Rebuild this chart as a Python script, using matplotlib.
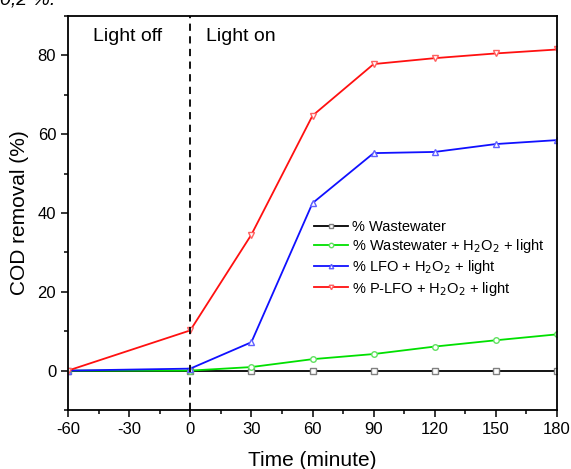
import numpy as np
import matplotlib.pyplot as plt
from matplotlib.ticker import MultipleLocator

plt.rcParams['font.family'] = ['Liberation Sans', 'DejaVu Sans']
plt.rcParams['axes.unicode_minus'] = False

# time points (minute)
t = [-60, 0, 30, 60, 90, 120, 150, 180]
# COD removal (%)
waste = [0, 0, 0, 0, 0, 0, 0, 0]
waste_h2o2 = [0, 0, 0.9, 2.9, 4.2, 6.1, 7.7, 9.2]
lfo = [0, 0.5, 7.2, 42.5, 55.2, 55.5, 57.5, 58.5]
plfo = [0, 10.2, 34.5, 64.7, 77.8, 79.3, 80.5, 81.5]

labels = ['% Wastewater',
          '% Wastewater + H$_2$O$_2$ + light',
          '% LFO + H$_2$O$_2$ + light',
          '% P-LFO + H$_2$O$_2$ + light']

fig = plt.figure(figsize=(5.71, 4.69), dpi=100)
ax = fig.add_axes([68/571, 1 - 410/469, 489/571, 394/469])

ax.plot(t, waste, color='black', lw=1.3, marker='s', ms=4, mfc='white',
        mec='gray', label=labels[0])
ax.plot(t, waste_h2o2, color='#00e000', lw=1.3, marker='o', ms=4, mfc='white',
        mec='#60e060', label=labels[1])
ax.plot(t, lfo, color='#1010ff', lw=1.3, marker='^', ms=4, mfc='white',
        mec='#6060ff', label=labels[2])
ax.plot(t, plfo, color='#ff1010', lw=1.3, marker='v', ms=4, mfc='white',
        mec='#ff6060', label=labels[3])

ax.axvline(0, color='black', ls=(0, (4, 3)), lw=1.3)

ax.set_xlim(-60, 180)
ax.set_ylim(-10, 90)
ax.xaxis.set_major_locator(MultipleLocator(30))
ax.xaxis.set_minor_locator(MultipleLocator(15))
ax.yaxis.set_major_locator(MultipleLocator(20))
ax.yaxis.set_minor_locator(MultipleLocator(10))
ax.tick_params(which='both', direction='out', top=False, right=False,
               labelsize=12, width=1.1)
ax.tick_params(which='major', length=5)
ax.tick_params(which='minor', length=3)
for s in ax.spines.values():
    s.set_linewidth(1.3)

ax.set_xlabel('Time (minute)', fontsize=15, labelpad=10)
ax.set_ylabel('COD removal (%)', fontsize=15, labelpad=6)

ax.text(-30.7, 84.9, 'Light off', ha='center', va='center', fontsize=14)
ax.text(24.8, 84.9, 'Light on', ha='center', va='center', fontsize=14)

ax.legend(loc='center left', bbox_to_anchor=(0.503, 0.384), frameon=False,
          fontsize=10.5, handlelength=2.35, handletextpad=0.27,
          labelspacing=0.22, borderpad=0, borderaxespad=0, markerscale=0.8)

fig.text(0.0, 1.0, '0,2 %.', fontsize=14, style='italic', va='center')

fig.savefig('out.png', dpi=100)
